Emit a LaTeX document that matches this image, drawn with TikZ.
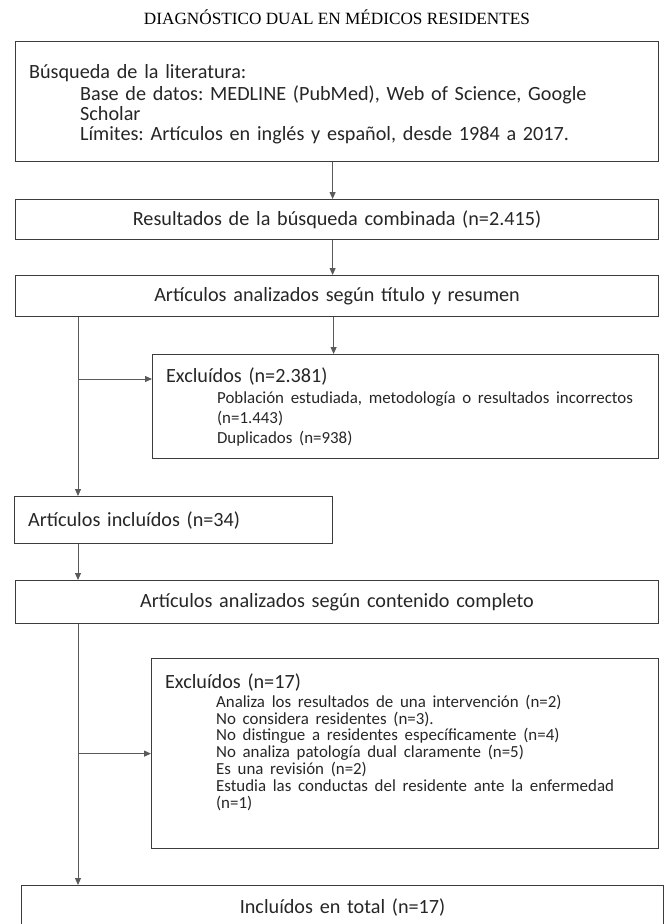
\documentclass[tikz,border=0pt]{standalone}
\usepackage{fontspec}
\setmainfont{Carlito}
\newfontfamily\titlefont{Liberation Serif}
\usetikzlibrary{arrows.meta}
\definecolor{boxgray}{HTML}{3C3C3C}
\definecolor{linegray}{HTML}{5A5A5A}
\newcommand{\bigtxt}{\fontsize{20.2}{20}\selectfont\frenchspacing}
\newcommand{\subtxt}{\fontsize{16.9}{16.8}\selectfont\frenchspacing}
\newcommand{\ind}{\hspace*{51pt}}
\begin{document}
\begin{tikzpicture}[x=1pt,y=-1pt,
  box/.style={draw=boxgray,line width=1.2pt,anchor=north west,inner xsep=13.5pt,inner ysep=0pt,font=\bigtxt,text=black!85},
  arr/.style={draw=linegray,line width=1pt,-{Triangle[width=6pt,length=7pt]}}]
\useasboundingbox (0,0) rectangle (666,924);
\node (title) at (337,17.5) {\titlefont\fontsize{17.2}{18}\selectfont DIAGNÓSTICO DUAL EN MÉDICOS RESIDENTES};

% main column
\node[box,align=left,text width=616pt,minimum height=120pt] (search) at (15,41) {%
  \rule{0pt}{20pt}Búsqueda de la literatura:\\[2pt]
  \ind Base de datos: MEDLINE (PubMed), Web of Science, Google\\
  \ind Scholar\\
  \ind Límites: Artículos en inglés y español, desde 1984 a 2017.};
\node[box,align=center,text width=616pt,minimum height=40pt] (combined) at (15,199) {Resultados de la búsqueda combinada (n=2.415)};
\node[box,align=center,text width=616pt,minimum height=41pt] (screen) at (15,275) {Artículos analizados según título y resumen};
\node[box,align=left,text width=479pt,minimum height=104pt] (excl1) at (152,354) {%
  Excluídos (n=2.381)\\[1pt]
  {\subtxt\baselineskip=20pt
  \ind\mbox{Población estudiada, metodología o resultados incorrectos}\\
  \ind (n=1.443)\\
  \ind Duplicados (n=938)\par}};
\node[box,align=left,text width=291pt,minimum height=47pt] (incl34) at (14,496) {Artículos incluídos (n=34)};
\node[box,align=center,text width=616pt,minimum height=43pt] (fulltext) at (15,580) {Artículos analizados según contenido completo};
\node[box,align=left,text width=480pt,minimum height=190pt] (excl2) at (151,658) {%
  Excluídos (n=17)\\[2pt]
  {\subtxt
  \ind Analiza los resultados de una intervención (n=2)\\
  \ind No considera residentes (n=3).\\
  \ind No distingue a residentes específicamente (n=4)\\
  \ind No analiza patología dual claramente (n=5)\\
  \ind Es una revisión (n=2)\\
  \ind\mbox{Estudia las conductas del residente ante la enfermedad}\\
  \ind (n=1)\par}
  \rule{0pt}{22pt}};
\node[box,align=center,text width=615pt,minimum height=70pt,text depth=28pt] (total) at (21,885) {Incluídos en total (n=17)};

% trunk on the left
\coordinate (tk) at (78,0);

\draw[arr] ([xshift=-4.5pt]search.south) -- ([xshift=-4.5pt]combined.north);
\draw[arr] ([xshift=-4.5pt]combined.south) -- ([xshift=-4.5pt]screen.north);
\draw[arr] ([xshift=-3.5pt]screen.south) -- ([xshift=-3.5pt]screen.south |- excl1.north);
\draw[arr] (screen.south -| tk) -- (incl34.north -| tk);
\draw[arr] (tk |- 0,379) -- (excl1.west |- 0,379);
\draw[arr] (incl34.south -| tk) -- (fulltext.north -| tk);
\draw[arr] (fulltext.south -| tk) -- (total.north -| tk);
\draw[arr] (tk |- excl2.west) -- (excl2.west);
\end{tikzpicture}
\end{document}
